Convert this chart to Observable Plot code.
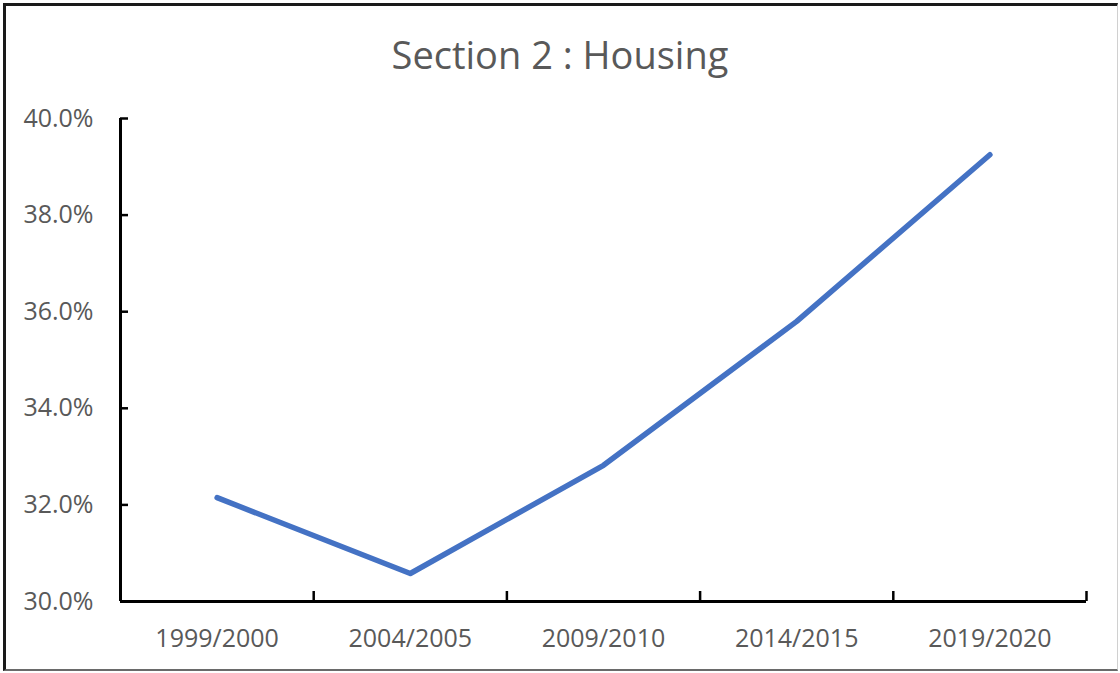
<!DOCTYPE html>
<html>
<head>
<meta charset="utf-8">
<script src="https://cdn.jsdelivr.net/npm/d3@7"></script>
<script src="https://cdn.jsdelivr.net/npm/@observablehq/plot@0.6"></script>
<style>
  html, body { margin: 0; padding: 0; background: #fff; }
  #frame { position: relative; width: 1120px; height: 673px; overflow: hidden; background: #fff; font-family: "Open Sans", sans-serif; }
  #border { position: absolute; left: 3px; top: 3px; width: 1115px; height: 668px; box-sizing: border-box;
            border-left: 3px solid #1a1a1a; border-top: 3px solid #1a1a1a; border-right: 1px solid #d0d0d0; border-bottom: 2px solid #6a6a6a; pointer-events: none; }
  #title { position: absolute; left: 0; top: 28px; width: 1120px; text-align: center; font-size: 38px; line-height: 52px; color: #595959; }
  #chart { position: absolute; left: 0; top: 95px; }
  #chart g[aria-label="y-axis tick"], #chart g[aria-label="x-axis tick"] { stroke: #000; stroke-width: 2.5px; }
</style>
</head>
<body>
<div id="frame">
  <div id="title">Section 2 : Housing</div>
  <div id="chart"></div>
  <div id="border"></div>
</div>
<script>
const categories = ["1999/2000", "2004/2005", "2009/2010", "2014/2015", "2019/2020"];
const values = [32.15, 30.58, 32.82, 35.80, 39.25];
const yTicks = [30, 32, 34, 36, 38, 40];

const data = categories.map((c, i) => ({category: c, index: i, value: values[i]}));
const edges = d3.range(categories.length + 1);
const centers = categories.map((c, i) => i + 0.5);

const chart = Plot.plot({
  width: 1120,
  height: 578,
  marginTop: 23,
  marginBottom: 72,
  marginLeft: 120,
  marginRight: 34,
  style: { fontFamily: "Open Sans, sans-serif", fontSize: "25px", color: "#595959", background: "transparent", overflow: "visible" },
  x: { type: "linear", domain: [0, categories.length], label: null },
  y: { domain: [30, 40], label: null },
  marks: [
    Plot.axisY({ ticks: yTicks, tickSize: -8, tickPadding: 35, tickFormat: d => d.toFixed(1) + "%", fontSize: 25, color: "#595959", label: null }),
    Plot.axisX({ ticks: edges, tickSize: -10, tickFormat: () => "", color: "#595959", label: null }),
    Plot.axisX({ ticks: centers, tickSize: 0, tickPadding: 28, tickFormat: v => categories[Math.floor(v)], fontSize: 25, color: "#595959", label: null }),
    Plot.ruleX([0], { stroke: "#000", strokeWidth: 3 }),
    Plot.ruleY([30], { stroke: "#000", strokeWidth: 3 }),
    Plot.line(data, { x: d => d.index + 0.5, y: "value", stroke: "#4472C4", strokeWidth: 5.5, strokeLinecap: "round", strokeLinejoin: "round" })
  ]
});
document.getElementById("chart").appendChild(chart);
</script>
</body>
</html>
